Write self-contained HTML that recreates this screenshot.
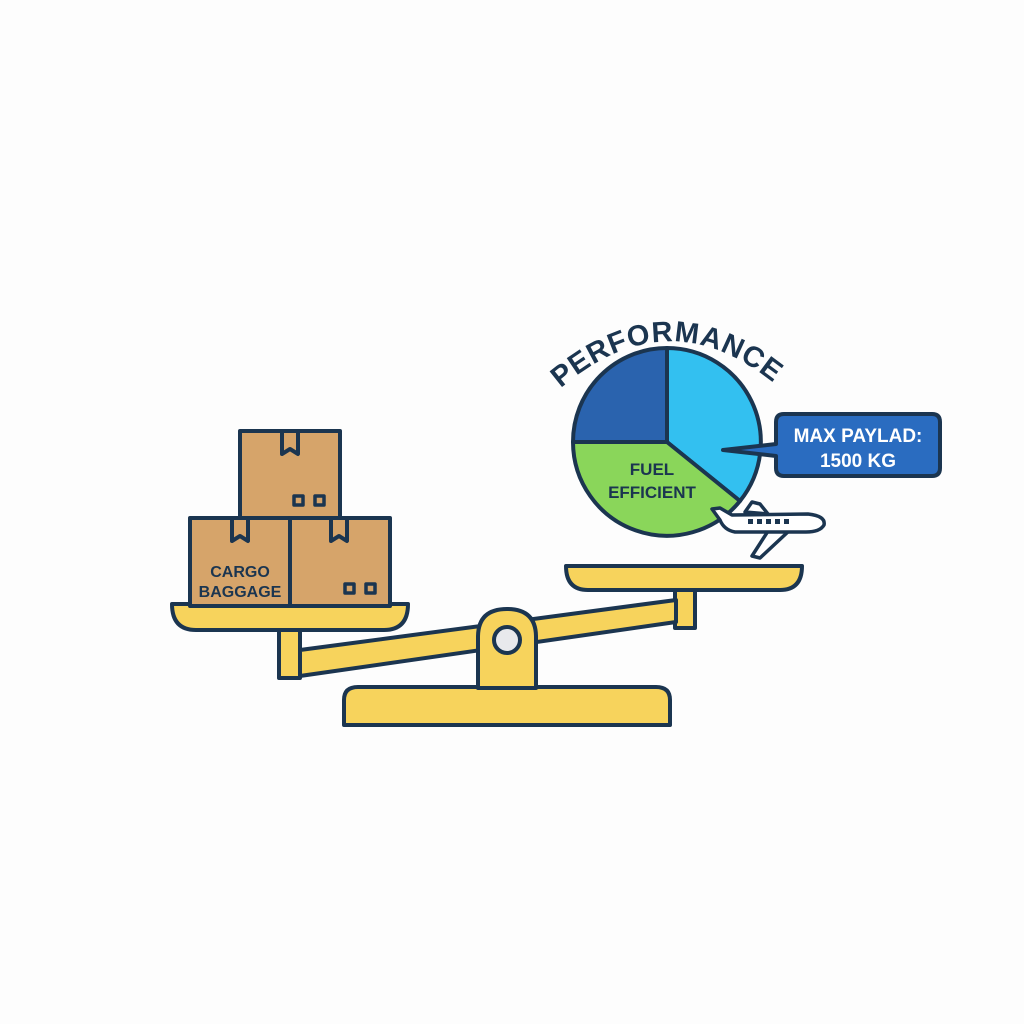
<!DOCTYPE html>
<html><head><meta charset="utf-8"><style>body{margin:0;background:#fff}svg{display:block}</style></head>
<body>
<svg width="1024" height="1024" viewBox="0 0 1024 1024" xmlns="http://www.w3.org/2000/svg">
<rect width="1024" height="1024" fill="#fdfdfd"/>
<g stroke="#1b3550" stroke-width="4" stroke-linejoin="round" fill="#f7d35c">
  <path d="M344 725 L344 700 Q344 687 358 687 L656 687 Q670 687 670 700 L670 725 Z"/>
  <rect x="279" y="628" width="21" height="50"/>
  <rect x="675" y="590" width="20" height="38"/>
  <path d="M300 650 L676 600 L676 622 L300 676 Z"/>
  <path d="M478 688 L478 637 Q478 609 507 609 Q536 609 536 637 L536 688 Z"/>
  <circle cx="507" cy="640" r="13" fill="#e8e9ec"/>
  <path d="M172 604 L408 604 Q408 630 384 630 L196 630 Q172 630 172 604 Z"/>
  <path d="M566 566 L802 566 Q802 590 780 590 L588 590 Q566 590 566 566 Z"/>
</g>
<g stroke="#1b3550" stroke-width="4" fill="#d6a46a" stroke-linejoin="round">
  <rect x="240" y="431" width="100" height="87"/>
  <rect x="190" y="518" width="100" height="88"/>
  <rect x="290" y="518" width="100" height="88"/>
  <path d="M282 431 L282 454 L290 449 L298 454 L298 431" fill="none"/>
  <path d="M232 518 L232 541 L240 536 L248 541 L248 518" fill="none"/>
  <path d="M331 518 L331 541 L339 536 L347 541 L347 518" fill="none"/>
  <rect x="294" y="496" width="9" height="9" fill="none" stroke-width="3.5"/>
  <rect x="315" y="496" width="9" height="9" fill="none" stroke-width="3.5"/>
  <rect x="345" y="584" width="9" height="9" fill="none" stroke-width="3.5"/>
  <rect x="366" y="584" width="9" height="9" fill="none" stroke-width="3.5"/>
</g>
<g font-family="Liberation Sans, sans-serif" font-weight="bold" fill="#1b3550" text-anchor="middle" font-size="16">
  <text x="240" y="577">CARGO</text>
  <text x="240" y="597">BAGGAGE</text>
</g>
<g stroke="#1b3550" stroke-width="4" stroke-linejoin="round">
  <path d="M667 442 L573 442 A94 94 0 0 1 667 348 Z" fill="#2a63ae"/>
  <path d="M667 442 L667 348 A94 94 0 0 1 740 501 Z" fill="#33c0f0"/>
  <path d="M667 442 L740 501 A94 94 0 0 1 573 442 Z" fill="#8ad65a"/>
</g>
<g font-family="Liberation Sans, sans-serif" font-weight="bold" fill="#1b3550" text-anchor="middle" font-size="17">
  <text x="652" y="475">FUEL</text>
  <text x="652" y="498">EFFICIENT</text>
</g>
<defs><path id="arc" d="M552 396 Q667 290 782 390"/></defs>
<text font-family="Liberation Sans, sans-serif" font-weight="bold" font-size="29" fill="#1b3550"><textPath href="#arc" startOffset="50%" text-anchor="middle" textLength="235" lengthAdjust="spacing">PERFORMANCE</textPath></text>
<path d="M784 414 L932 414 Q940 414 940 422 L940 468 Q940 476 932 476 L784 476 Q776 476 776 468 L776 456 L723 450 L776 444 L776 422 Q776 414 784 414 Z" fill="#2a6cc0" stroke="#1b3550" stroke-width="4" stroke-linejoin="round"/>
<g font-family="Liberation Sans, sans-serif" font-weight="bold" fill="#fff" text-anchor="middle" font-size="19">
  <text x="858" y="442">MAX PAYLAD:</text>
  <text x="858" y="467">1500 KG</text>
</g>
<g stroke="#1b3550" stroke-width="3.5" fill="#fff" stroke-linejoin="round">
  <path d="M745 512 L752 502 L760 504 L768 514 Z"/>
  <path d="M770 528 L752 556 L760 558 L790 530 Z"/>
  <path d="M712 509 L720 508 L732 515 L808 514 Q826 516 824 525 Q820 532 806 532 L735 532 Q724 530 720 520 Z"/>
</g>
<g fill="#1b3550">
  <rect x="748" y="519" width="5" height="5"/><rect x="757" y="519" width="5" height="5"/><rect x="766" y="519" width="5" height="5"/><rect x="775" y="519" width="5" height="5"/><rect x="784" y="519" width="5" height="5"/>
</g>
</svg>
</body></html>
